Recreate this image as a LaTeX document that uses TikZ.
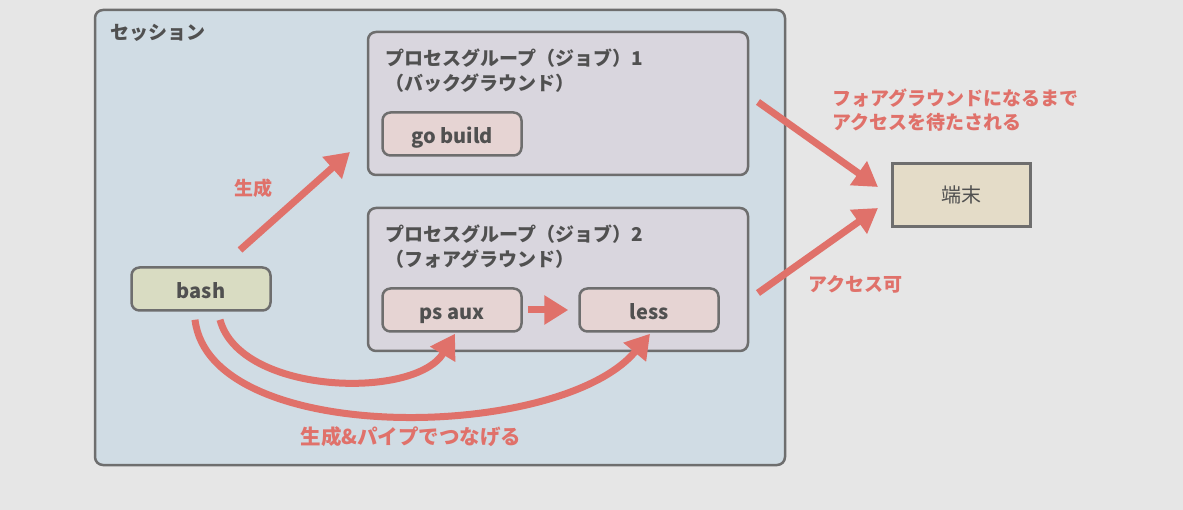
\documentclass[tikz,border=0pt]{standalone}
\usepackage{fontspec}
\setmainfont{Noto Sans CJK JP}
\usetikzlibrary{arrows.meta,positioning}
\definecolor{bgc}{HTML}{E6E6E6}
\definecolor{sessc}{HTML}{D0DCE4}
\definecolor{grpc}{HTML}{D9D6DE}
\definecolor{procc}{HTML}{E6D4D3}
\definecolor{bashc}{HTML}{D9DCC2}
\definecolor{termc}{HTML}{E4DCC8}
\definecolor{linec}{HTML}{6E6E6E}
\definecolor{textc}{HTML}{505050}
\definecolor{redc}{HTML}{E0716A}

\begin{document}
\begin{tikzpicture}[x=1pt,y=-1pt,
  box/.style={draw=linec,line width=2.5pt,rounded corners=8pt,inner sep=0pt},
  sessbox/.style={box,fill=sessc,minimum width=690pt,minimum height=455pt},
  grpbox/.style={box,fill=grpc,minimum width=380pt,minimum height=143pt},
  procbox/.style={box,fill=procc,minimum width=139pt,minimum height=43pt,
    text height=19pt,text depth=0pt,
    text=textc,font=\fontsize{20}{24}\selectfont\bfseries},
  termbox/.style={draw=linec,line width=3pt,fill=termc,minimum width=138pt,
    minimum height=63pt,text=textc,font=\fontsize{20}{24}\selectfont},
  title/.style={inner sep=0pt,text=textc,align=left,
    font=\fontsize{19}{25}\selectfont\bfseries},
  redlabel/.style={inner sep=0pt,text=redc,align=left,
    font=\fontsize{19}{24}\selectfont\bfseries},
  redarrow/.style={draw=redc,line width=7pt,-{Triangle[length=24pt,width=28pt]}}]
\fill[bgc] (0,0) rectangle (1183,510);
\useasboundingbox (0,0) rectangle (1183,510);

% session
\node[sessbox] (sess) at (440,237.5) {};
\node[title,anchor=west] (sesstitle) at (110,33) {セッション};

% process groups
\node[grpbox] (grp1) at (558,103.5) {};
\node[title,anchor=north west] (grp1title) at (385,49)
  {プロセスグループ（ジョブ）1\\（バックグラウンド）};
\node[procbox] (gobuild) at (452,134) {go build};

\node[grpbox] (grp2) at (558,279.5) {};
\node[title,anchor=north west] (grp2title) at (385,225)
  {プロセスグループ（ジョブ）2\\（フォアグラウンド）};
\node[procbox] (psaux) at (452,310) {ps aux};
\node[procbox] (less) at (649,310) {less};

\node[procbox,fill=bashc] (bash) at (201,289) {bash};

% terminal
\node[termbox] (term) at (961,195) {端末};

% free ends
\coordinate (spawnA) at (240,250);
\coordinate (spawnB) at (350,152);
\coordinate (bgA) at (758,102);
\coordinate (bgB) at (878,187);
\coordinate (fgA) at (758,293);
\coordinate (fgB) at (878,208);

\draw[redarrow] (spawnA) -- (spawnB);
\draw[redarrow,shorten <=5pt,shorten >=10pt] (psaux) -- (less);
\draw[redarrow] (bgA) -- (bgB);
\draw[redarrow] (fgA) -- (fgB);
\draw[redarrow] ([xshift=19pt,yshift=-8pt]bash.south) .. controls (240,395) and (415,400) .. ([xshift=3pt,yshift=-1pt]psaux.south);
\draw[redarrow] ([xshift=-6pt,yshift=-8pt]bash.south) .. controls (210,447) and (560,442) .. ([xshift=1pt,yshift=-1pt]less.south);

% labels
\node[redlabel] (spawnlbl) at (253,188) {生成};
\node[redlabel,anchor=west] (waitlbl) at (832,110)
  {フォアグラウンドになるまで\\アクセスを待たされる};
\node[redlabel,anchor=west] (accesslbl) at (808,284) {アクセス可};
\node[redlabel,font=\fontsize{20.5}{24}\selectfont\bfseries] (pipelbl) at (411,437) {生成\&パイプでつなげる};
\end{tikzpicture}
\end{document}
